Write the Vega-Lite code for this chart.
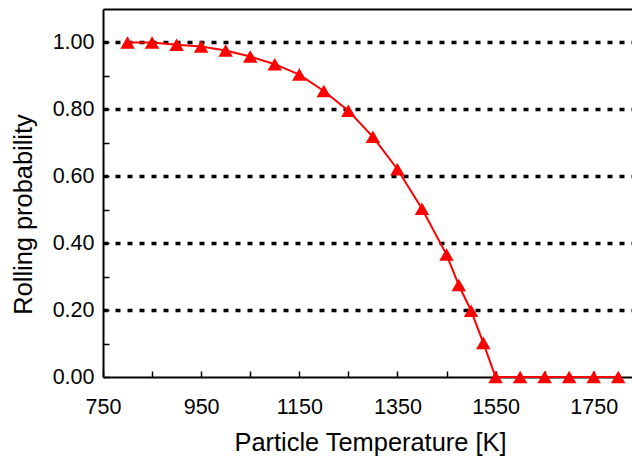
{
  "$schema": "https://vega.github.io/schema/vega-lite/v6.json",
  "width": 529,
  "height": 368,
  "autosize": {"type": "none"},
  "padding": {"left": 103, "top": 9, "right": 0, "bottom": 81},
  "background": "white",
  "config": {"view": {"stroke": null}, "font": "Liberation Sans"},
  "data": {
    "values": [
      {"T": 800, "P": 1.0},
      {"T": 850, "P": 1.0},
      {"T": 900, "P": 0.993},
      {"T": 950, "P": 0.988},
      {"T": 1000, "P": 0.976},
      {"T": 1050, "P": 0.958},
      {"T": 1100, "P": 0.935},
      {"T": 1150, "P": 0.904},
      {"T": 1200, "P": 0.855},
      {"T": 1250, "P": 0.796},
      {"T": 1300, "P": 0.718},
      {"T": 1350, "P": 0.621},
      {"T": 1400, "P": 0.503},
      {"T": 1450, "P": 0.366},
      {"T": 1475, "P": 0.275},
      {"T": 1500, "P": 0.198},
      {"T": 1525, "P": 0.102},
      {"T": 1550, "P": 0.0},
      {"T": 1600, "P": 0.0},
      {"T": 1650, "P": 0.0},
      {"T": 1700, "P": 0.0},
      {"T": 1750, "P": 0.0},
      {"T": 1800, "P": 0.0}
    ]
  },
  "layer": [
    {
      "mark": {"type": "line", "color": "#ff0000", "strokeWidth": 2},
      "encoding": {
        "x": {
          "field": "T",
          "type": "quantitative",
          "scale": {"domain": [750, 1828], "nice": false, "zero": false},
          "axis": {
            "values": [750, 850, 950, 1050, 1150, 1250, 1350, 1450, 1550, 1650, 1750],
            "labelExpr": "(datum.value - 750) % 200 == 0 ? datum.label : ''",
            "format": "d",
            "grid": false,
            "domainColor": "black",
            "domainWidth": 2,
            "tickColor": "black",
            "tickWidth": 1.5,
            "tickSize": -6,
            "labelFontSize": 21.5,
            "labelColor": "black",
            "labelBaseline": "alphabetic",
            "labelPadding": 42,
            "labelFlush": false,
            "title": "Particle Temperature [K]",
            "titleFontSize": 25.4,
            "titleFontWeight": "normal",
            "titleColor": "black",
            "titleX": 267,
            "titleY": 73,
            "titleBaseline": "alphabetic",
            "titleAnchor": null
          }
        },
        "y": {
          "field": "P",
          "type": "quantitative",
          "scale": {"domain": [0, 1.1], "nice": false, "zero": false},
          "axis": {
            "values": [0, 0.1, 0.2, 0.3, 0.4, 0.5, 0.6, 0.7, 0.8, 0.9, 1.0],
            "labelExpr": "round(datum.value * 10) % 2 == 0 ? format(datum.value, '.2f') : ''",
            "grid": true,
            "gridColor": "black",
            "gridWidth": 3.5,
            "gridDash": [5, 7],
            "gridOpacity": {"condition": {"test": "round(datum.value * 10) % 2 == 0 && datum.value > 0.05", "value": 1}, "value": 0},
            "domainColor": "black",
            "domainWidth": 2,
            "tickColor": "black",
            "tickWidth": 1.5,
            "tickSize": -6,
            "labelFontSize": 21.5,
            "labelColor": "black",
            "labelPadding": 15,
            "labelFlush": false,
            "title": "Rolling probability",
            "titleFontSize": 25.4,
            "titleFontWeight": "normal",
            "titleColor": "black",
            "titleX": -80,
            "titleY": 205,
            "titleAngle": -90,
            "titleBaseline": "middle",
            "titleAlign": "center",
            "titleAnchor": null
          }
        }
      }
    },
    {
      "mark": {"type": "point", "shape": "triangle-up", "filled": true, "size": 210, "color": "#ff0000", "opacity": 1},
      "encoding": {
        "x": {
          "field": "T",
          "type": "quantitative",
          "axis": {
            "orient": "top",
            "domainColor": "black",
            "domainWidth": 2,
            "ticks": false,
            "labels": false,
            "grid": false,
            "title": null
          }
        },
        "y": {"field": "P", "type": "quantitative", "axis": null}
      }
    }
  ],
  "resolve": {"axis": {"x": "independent", "y": "independent"}}
}
